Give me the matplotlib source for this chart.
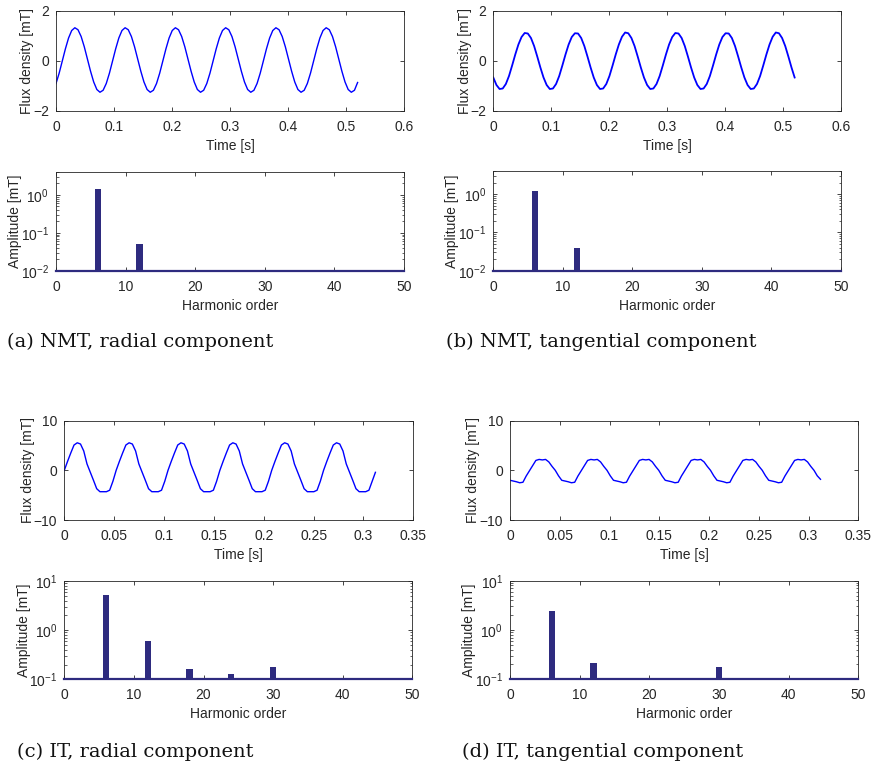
import numpy as np
import matplotlib.pyplot as plt
from matplotlib.ticker import FormatStrFormatter, LogLocator, NullFormatter

# flux density waveforms [mT], evenly sampled (16 samples per period)
nmt_rad_t_end = 0.52
nmt_rad = [
    -0.90, -0.49, 0.00, 0.49, 0.92, 1.22, 1.33, 1.25, 0.98, 0.57, 0.08, -0.41, -0.84, -1.14, -1.25, -1.17,
    -0.90, -0.49, 0.00, 0.49, 0.92, 1.22, 1.33, 1.25, 0.98, 0.57, 0.08, -0.41, -0.84, -1.14, -1.25, -1.17,
    -0.90, -0.49, 0.00, 0.49, 0.92, 1.22, 1.33, 1.25, 0.98, 0.57, 0.08, -0.41, -0.84, -1.14, -1.25, -1.17,
    -0.90, -0.49, 0.00, 0.49, 0.92, 1.22, 1.33, 1.25, 0.98, 0.57, 0.08, -0.41, -0.84, -1.14, -1.25, -1.17,
    -0.90, -0.49, 0.00, 0.49, 0.92, 1.22, 1.33, 1.25, 0.98, 0.57, 0.08, -0.41, -0.84, -1.14, -1.25, -1.17,
    -0.90, -0.49, 0.00, 0.49, 0.92, 1.22, 1.33, 1.25, 0.98, 0.57, 0.08, -0.41, -0.84, -1.14, -1.25, -1.17,
    -0.86]

nmt_tan_t_end = 0.52
nmt_tan = [
    -0.66, -0.96, -1.12, -1.10, -0.92, -0.60, -0.18, 0.26, 0.66, 0.96, 1.12, 1.10, 0.92, 0.60, 0.18, -0.26,
    -0.66, -0.96, -1.12, -1.10, -0.92, -0.60, -0.18, 0.26, 0.66, 0.96, 1.11, 1.10, 0.92, 0.60, 0.18, -0.26,
    -0.66, -0.96, -1.12, -1.10, -0.92, -0.60, -0.18, 0.26, 0.66, 0.97, 1.14, 1.11, 0.92, 0.60, 0.18, -0.26,
    -0.66, -0.96, -1.12, -1.10, -0.92, -0.60, -0.18, 0.26, 0.66, 0.96, 1.12, 1.10, 0.92, 0.60, 0.18, -0.26,
    -0.66, -0.96, -1.12, -1.10, -0.92, -0.60, -0.18, 0.26, 0.66, 0.96, 1.11, 1.10, 0.92, 0.60, 0.18, -0.26,
    -0.66, -0.96, -1.12, -1.10, -0.92, -0.60, -0.18, 0.26, 0.66, 0.97, 1.14, 1.11, 0.92, 0.60, 0.18, -0.26,
    -0.66]

it_rad_t_end = 0.312
it_rad = [
    0.0, 1.8, 3.5, 5.1, 5.55, 5.3, 3.9, 1.3, -0.35, -2.0, -3.7, -4.3, -4.3, -4.3, -4.0, -2.2,
    0.0, 1.8, 3.5, 5.1, 5.55, 5.3, 3.9, 1.3, -0.35, -2.0, -3.7, -4.3, -4.3, -4.3, -4.0, -2.2,
    0.0, 1.8, 3.5, 5.1, 5.55, 5.3, 3.9, 1.3, -0.35, -2.0, -3.7, -4.3, -4.3, -4.3, -4.0, -2.2,
    0.0, 1.8, 3.5, 5.1, 5.55, 5.3, 3.9, 1.3, -0.35, -2.0, -3.7, -4.3, -4.3, -4.3, -4.0, -2.2,
    0.0, 1.8, 3.5, 5.1, 5.55, 5.3, 3.9, 1.3, -0.35, -2.0, -3.7, -4.3, -4.3, -4.3, -4.0, -2.2,
    0.0, 1.8, 3.5, 5.1, 5.55, 5.3, 3.9, 1.3, -0.35, -2.0, -3.7, -4.3, -4.3, -4.3, -4.0, -2.2,
    -0.4]

it_tan_t_end = 0.312
it_tan = [
    -2.0, -2.15, -2.3, -2.5, -2.4, -1.15, -0.1, 0.95, 2.0, 2.2, 2.1, 2.2, 1.7, 0.8, 0.0, -1.1,
    -2.0, -2.15, -2.3, -2.5, -2.4, -1.15, -0.1, 0.95, 2.0, 2.2, 2.1, 2.2, 1.7, 0.8, 0.0, -1.1,
    -2.0, -2.15, -2.3, -2.5, -2.4, -1.15, -0.1, 0.95, 2.0, 2.2, 2.1, 2.2, 1.7, 0.8, 0.0, -1.1,
    -2.0, -2.15, -2.3, -2.5, -2.4, -1.15, -0.1, 0.95, 2.0, 2.2, 2.1, 2.2, 1.7, 0.8, 0.0, -1.1,
    -2.0, -2.15, -2.3, -2.5, -2.4, -1.15, -0.1, 0.95, 2.0, 2.2, 2.1, 2.2, 1.7, 0.8, 0.0, -1.1,
    -2.0, -2.15, -2.3, -2.5, -2.4, -1.15, -0.1, 0.95, 2.0, 2.2, 2.1, 2.2, 1.7, 0.8, 0.0, -1.1,
    -1.8]

# harmonic spectra [mT]
nmt_rad_h = [6, 12]
nmt_rad_amp = [1.42, 0.051]
nmt_tan_h = [6, 12]
nmt_tan_amp = [1.17, 0.038]
it_rad_h = [6, 12, 18, 24, 30]
it_rad_amp = [5.1, 0.59, 0.16, 0.128, 0.175]
it_tan_h = [6, 12, 30]
it_tan_amp = [2.43, 0.217, 0.18]

captions = ["(a) NMT, radial component", "(b) NMT, tangential component",
            "(c) IT, radial component", "(d) IT, tangential component"]

W, H = 875, 767
plt.rcParams['font.family'] = ['Liberation Sans', 'DejaVu Sans']
plt.rcParams['font.size'] = 10
txt = '#262626'
bar_c = '#2e2b7f'

fig = plt.figure(figsize=(W / 100, H / 100), dpi=100)


def add_ax(left, right, top, bottom, ylab_x):
    ax = fig.add_axes([left / W, 1 - bottom / H, (right - left) / W, (bottom - top) / H])
    for s in ax.spines.values():
        s.set_color(txt)
        s.set_linewidth(0.6)
    ax.tick_params(direction='in', top=True, right=True, length=3, width=0.6,
                   colors=txt, labelcolor=txt, labelsize=10)
    ax.tick_params(axis='x', pad=6.5)
    ax.tick_params(axis='y', pad=5)
    ax.tick_params(which='minor', direction='in', top=True, right=True, length=1.8, width=0.5, colors=txt)
    hpx = bottom - top
    wpx = right - left
    # label centres, in pixels from the axes box
    ax.xaxis.set_label_coords(0.5, -35 / hpx)
    ax.yaxis.set_label_coords((ylab_x - left) / wpx, 0.5)
    return ax


def time_plot(ax, vals, t_end, ylim, xmax, xstep, lw=1.0):
    t = np.linspace(0, t_end, len(vals))
    ax.plot(t, vals, color='#0000ff', lw=lw)
    ax.set_xlim(0, xmax)
    ax.set_ylim(-ylim, ylim)
    ax.set_xticks(np.arange(0, xmax + xstep / 2, xstep))
    ax.set_yticks([-ylim, 0, ylim])
    ax.xaxis.set_major_formatter(FormatStrFormatter('%g'))
    ax.set_xlabel('Time [s]', color=txt, va='center')
    ax.set_ylabel('Flux density [mT]', color=txt, va='center')


def spec_plot(ax, h, amp, ylo, yhi):
    ax.set_yscale('log')
    ax.bar(h, np.array(amp) - ylo, width=0.9, bottom=ylo, color=bar_c, zorder=3)
    ax.axhline(ylo, color=bar_c, lw=1.6, zorder=4, clip_on=False)
    ax.set_xlim(0, 50)
    ax.set_ylim(ylo, yhi)
    ax.set_xticks([0, 10, 20, 30, 40, 50])
    ax.yaxis.set_major_locator(LogLocator(base=10, numticks=10))
    ax.yaxis.set_minor_locator(LogLocator(base=10, subs=np.arange(2, 10), numticks=10))
    ax.yaxis.set_minor_formatter(NullFormatter())
    ax.set_xlabel('Harmonic order', color=txt, va='center')
    ax.set_ylabel('Amplitude [mT]', color=txt, va='center')


# (a)
ax = add_ax(56, 404, 11, 111, 27)
time_plot(ax, nmt_rad, nmt_rad_t_end, 2, 0.6, 0.1)
ax = add_ax(56, 404, 172, 270.7, 15)
spec_plot(ax, nmt_rad_h, nmt_rad_amp, 1e-2, 4)

# (b)
ax = add_ax(493.3, 841, 11, 111, 465)
time_plot(ax, nmt_tan, nmt_tan_t_end, 2, 0.6, 0.1, lw=1.3)
ax = add_ax(493.3, 841, 171, 270.7, 452)
spec_plot(ax, nmt_tan_h, nmt_tan_amp, 1e-2, 4)

# (c)
ax = add_ax(64.3, 413.3, 420.7, 520, 28)
time_plot(ax, it_rad, it_rad_t_end, 10, 0.35, 0.05)
ax = add_ax(64.3, 412.3, 581, 679.3, 24)
spec_plot(ax, it_rad_h, it_rad_amp, 1e-1, 10)

# (d)
ax = add_ax(510, 858.3, 420.7, 520, 473)
time_plot(ax, it_tan, it_tan_t_end, 10, 0.35, 0.05)
ax = add_ax(510, 858.3, 580.7, 679.3, 469)
spec_plot(ax, it_tan_h, it_tan_amp, 1e-1, 10)

cap_pos = [(7, 347), (446, 347), (17, 757), (462, 757)]
for (x, y), c in zip(cap_pos, captions):
    fig.text(x / W, 1 - y / H, c, family='DejaVu Serif', fontsize=14,
             color='#111111', ha='left', va='baseline')

fig.savefig('out.png', dpi=100)
